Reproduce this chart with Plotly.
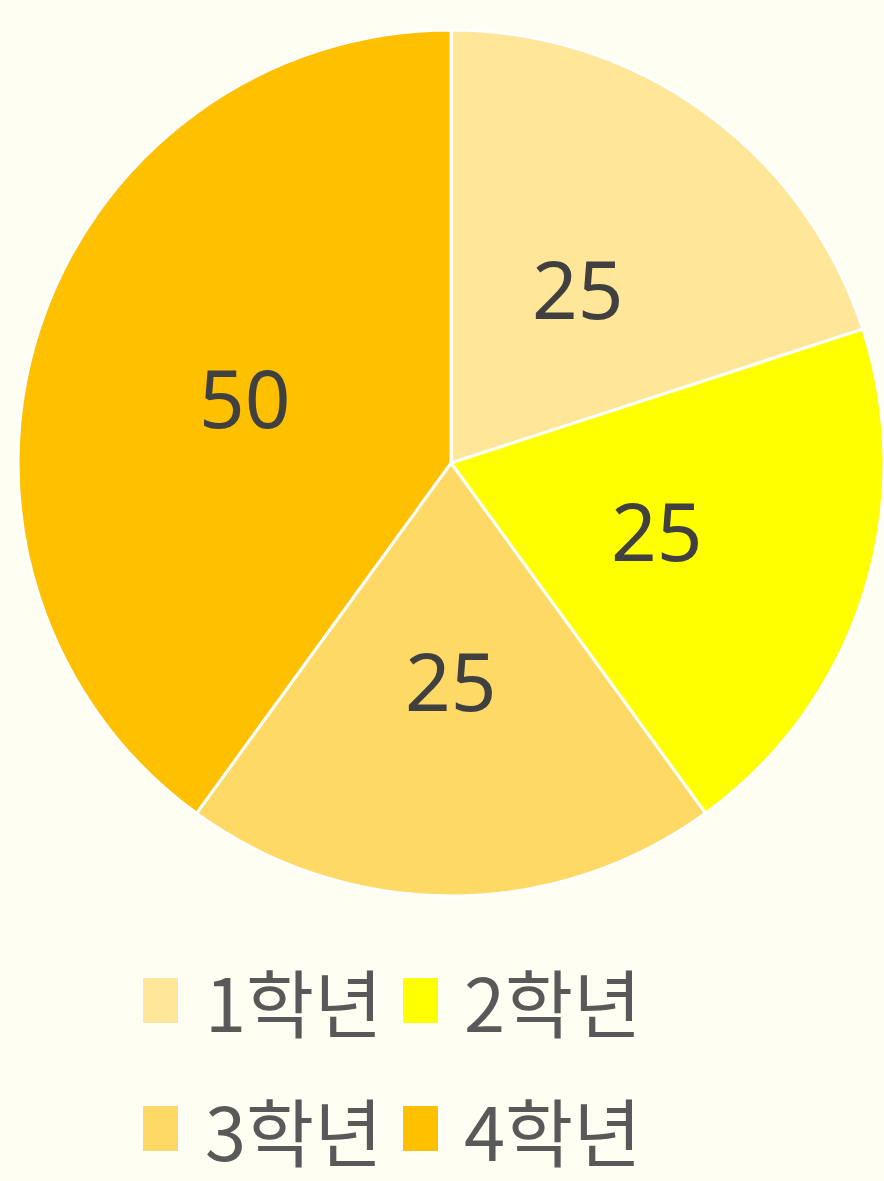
import math
import plotly.graph_objects as go

labels = ["1학년", "2학년", "3학년", "4학년"]
values = [25, 25, 25, 50]
colors = ["#FFE699", "#FFFF00", "#FFD966", "#FFC000"]

W, H = 884, 1181
BG = "#FFFEF2"

# pie geometry (pixels)
dom_x = [18, 884]
dom_y = [24, 902]
cx = (dom_x[0] + dom_x[1]) / 2
cy = (dom_y[0] + dom_y[1]) / 2
R = min(dom_x[1] - dom_x[0], dom_y[1] - dom_y[0]) / 2

fig = go.Figure(go.Pie(
    labels=labels, values=values, sort=False, direction="clockwise", rotation=0,
    marker=dict(colors=colors, line=dict(color="white", width=3)),
    textinfo="none",
    domain=dict(x=[dom_x[0] / W, dom_x[1] / W], y=[1 - dom_y[1] / H, 1 - dom_y[0] / H]),
    showlegend=False, hoverinfo="label+value",
))

anns, shapes = [], []
# value labels at half radius, mid-angle of each slice
total = sum(values)
cum = 0
for v in values:
    mid = (cum + v / 2) / total * 2 * math.pi
    cum += v
    px = cx + 0.5 * R * math.sin(mid)
    py = cy - 0.5 * R * math.cos(mid)
    anns.append(dict(text=str(v), xref="paper", yref="paper", x=px / W, y=1 - py / H,
                     xanchor="center", yanchor="middle", showarrow=False,
                     font=dict(size=80, color="#404040", family="Noto Sans")))

# manual legend (2 x 2 grid)
col_sq = [142, 402]
col_tx = [203, 462]
row_sq = [977, 1105]
row_c = [999, 1128]
for i, (lab, col) in enumerate(zip(labels, colors)):
    r, c = divmod(i, 2)
    x0 = col_sq[c]
    y0 = row_sq[r]
    shapes.append(dict(type="rect", xref="paper", yref="paper",
                       x0=x0 / W, x1=(x0 + 37) / W, y0=1 - y0 / H, y1=1 - (y0 + 47) / H,
                       fillcolor=col, line=dict(color="white", width=2)))
    anns.append(dict(text=lab, xref="paper", yref="paper", x=col_tx[c] / W, y=1 - row_c[r] / H,
                     xanchor="left", yanchor="middle", showarrow=False,
                     font=dict(size=74, color="#595959", family="Noto Sans CJK KR")))

fig.update_layout(width=W, height=H, margin=dict(l=0, r=0, t=0, b=0),
                  paper_bgcolor=BG, plot_bgcolor=BG, shapes=shapes, annotations=anns)
fig.write_html("out.html", config={"displayModeBar": False},
               post_script="document.body.style.margin='0';")
